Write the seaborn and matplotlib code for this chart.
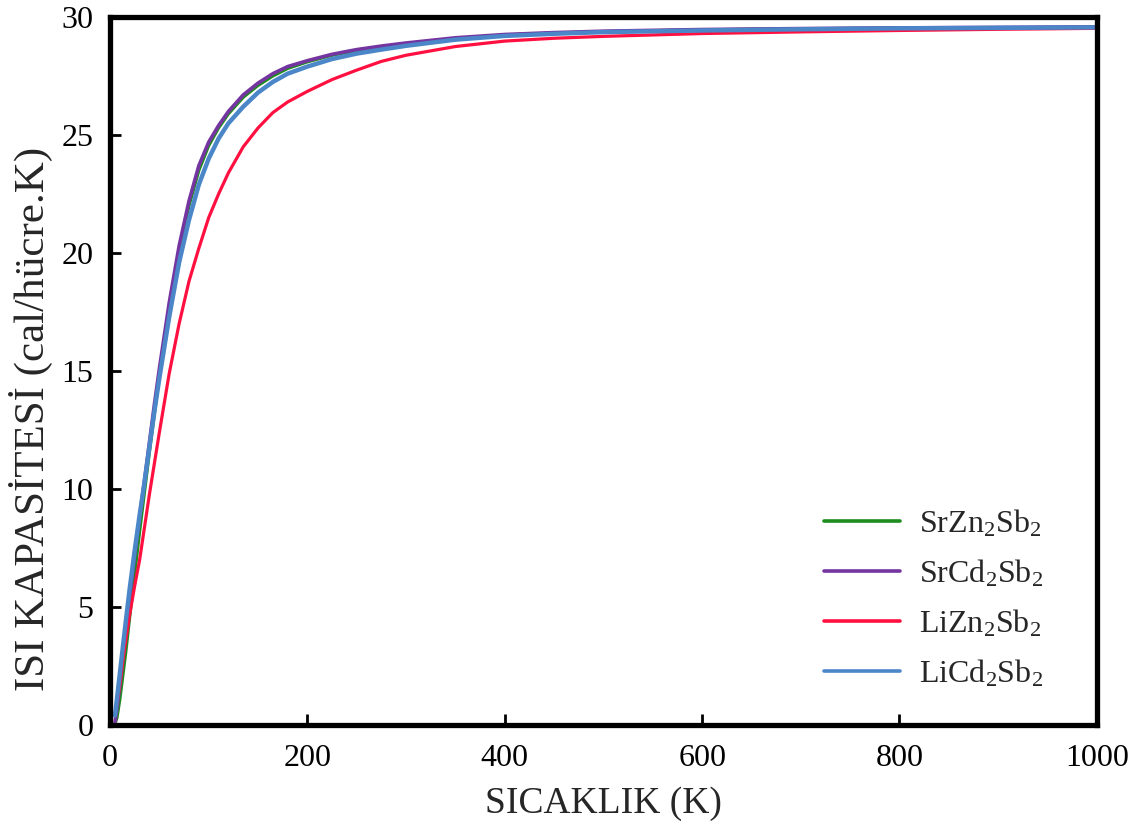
import numpy as np
import pandas as pd
import matplotlib
matplotlib.use("Agg")
import matplotlib.pyplot as plt
import seaborn as sns

# Temperature grid (K)
temperature = [5, 7, 10, 13, 16, 20, 25, 30, 35, 40, 45, 50, 60, 70, 80, 90, 100,
               110, 120, 135, 150, 165, 180, 200, 225, 250, 275, 300, 350, 400,
               450, 500, 600, 700, 800, 900, 1000]

# Heat capacity (cal/cell.K) for each compound
srzn2sb2 = [0.05, 0.3, 1.1, 2.1, 3.1, 4.6, 6.4, 8.2, 9.9, 11.6, 13.2, 14.8, 17.7,
            20.1, 22.0, 23.5, 24.55, 25.3, 25.9, 26.6, 27.1, 27.5, 27.82, 28.1,
            28.38, 28.58, 28.73, 28.86, 29.09, 29.24, 29.32, 29.38, 29.46, 29.5,
            29.53, 29.55, 29.57]
srcd2sb2 = [0.1, 0.7, 1.7, 2.8, 4.0, 5.5, 7.2, 8.8, 10.4, 12.0, 13.6, 15.1, 17.9,
            20.3, 22.2, 23.7, 24.7, 25.4, 26.0, 26.7, 27.2, 27.6, 27.9, 28.15,
            28.42, 28.62, 28.77, 28.9, 29.12, 29.26, 29.34, 29.4, 29.47, 29.51,
            29.54, 29.56, 29.58]
lizn2sb2 = [0.45, 0.9, 1.7, 2.7, 3.6, 4.7, 5.9, 7.0, 8.4, 9.8, 11.1, 12.4, 14.9,
            17.0, 18.8, 20.2, 21.5, 22.5, 23.4, 24.5, 25.3, 25.95, 26.4, 26.85,
            27.35, 27.75, 28.12, 28.38, 28.75, 28.98, 29.1, 29.18, 29.3, 29.37,
            29.43, 29.48, 29.52]
licd2sb2 = [0.4, 1.1, 2.2, 3.3, 4.4, 5.8, 7.4, 8.9, 10.3, 11.8, 13.3, 14.7, 17.3,
            19.6, 21.4, 22.9, 24.0, 24.85, 25.5, 26.2, 26.8, 27.25, 27.6, 27.9,
            28.22, 28.45, 28.62, 28.78, 29.04, 29.2, 29.29, 29.36, 29.43, 29.48,
            29.52, 29.54, 29.56]

labels = ["SrZn$_2$Sb$_2$", "SrCd$_2$Sb$_2$", "LiZn$_2$Sb$_2$", "LiCd$_2$Sb$_2$"]
series = [srzn2sb2, srcd2sb2, lizn2sb2, licd2sb2]
colors = ["#1e8c1e", "#7535a0", "#ff1040", "#4a86c8"]
widths = [2.3, 2.6, 2.3, 3.2]

x_ticks = [0, 200, 400, 600, 800, 1000]
y_ticks = [0, 5, 10, 15, 20, 25, 30]

frames = [pd.DataFrame({"T": temperature, "C": vals, "compound": lab})
          for lab, vals in zip(labels, series)]
df = pd.concat(frames, ignore_index=True)

sns.set_theme(style="white")
plt.rcParams["font.family"] = ["Liberation Serif", "DejaVu Serif"]
plt.rcParams["mathtext.fontset"] = "custom"
plt.rcParams["mathtext.rm"] = "Liberation Serif"
plt.rcParams["mathtext.it"] = "Liberation Serif"

fig = plt.figure(figsize=(11.39, 8.30), dpi=100)
ax = fig.add_axes([0.0966, 0.1265, 0.8664, 0.853])

sns.lineplot(data=df, x="T", y="C", hue="compound", hue_order=labels,
             palette=dict(zip(labels, colors)), estimator=None, sort=False,
             linewidth=2.4, ax=ax)
for line, lw in zip(ax.get_lines(), widths):
    line.set_linewidth(lw)

ax.set_xlim(0, 1000)
ax.set_ylim(0, 30)
ax.set_xticks(x_ticks)
ax.set_yticks(y_ticks)
ax.tick_params(axis="both", which="major", direction="in", length=8, width=2,
               labelsize=23, top=False, right=False, left=True,
               bottom=True, colors="black")
ax.tick_params(axis="x", pad=14)
ax.tick_params(axis="y", pad=12)
for side in ["left", "right", "top", "bottom"]:
    ax.spines[side].set_visible(True)
    ax.spines[side].set_linewidth(3.8)
    ax.spines[side].set_color("black")

ax.set_xlabel("SICAKLIK (K)", fontsize=27, labelpad=9)
ax.set_ylabel("ISI KAPASİTESİ (cal/hücre.K)", fontsize=31)
ax.yaxis.set_label_coords(-0.058, 0.432)

leg = ax.legend(loc="lower right", bbox_to_anchor=(0.975, 0.01), frameon=False,
                fontsize=23, handlelength=2.4, handletextpad=0.6,
                labelspacing=0.58)
for line in leg.get_lines():
    line.set_linewidth(2.6)

fig.savefig("out.png", dpi=100, facecolor="white")
